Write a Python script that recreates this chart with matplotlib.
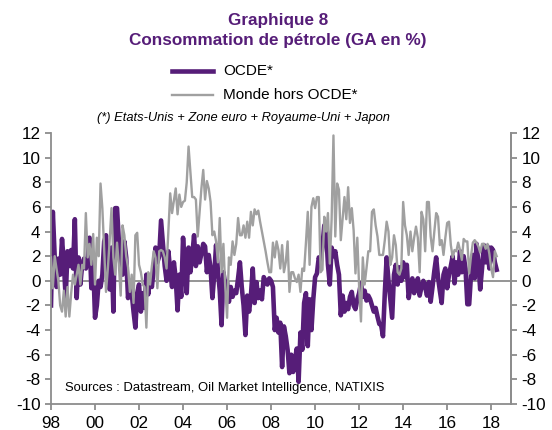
import numpy as np
import matplotlib
matplotlib.use("Agg")
import matplotlib.pyplot as plt

plt.rcParams['font.family'] = ['Liberation Sans', 'DejaVu Sans']

# Monthly year-on-year growth (%) starting Jan 1998
ocde = [
    -2.0, 5.6, 2.0, -0.5, 1.8, 0.5, 3.4, 1.5, -1.4, 2.4, 1.2, 2.5,      # 1998
    1.0, 5.0, -1.4, 1.9, -0.3, 1.3, 1.8, 1.0, 1.9, 3.5, -0.6, 1.5,      # 1999
    -3.0, -2.0, 0.0, -0.5, 0.5, 3.2, 3.7, 0.2, -0.7, 2.7, -2.5, 5.9,    # 2000
    5.9, 3.2, 1.0, 0.5, 3.2, 1.9, -1.4, 0.0, -1.0, -2.5, -3.8, -1.0,    # 2001
    -0.3, -2.5, -1.0, -2.2, 0.5, -1.1, 0.3, -0.5, 1.0, 2.7, 1.5, 2.0,   # 2002
    4.9, 3.0, 1.2, 0.0, 2.4, 0.8, -0.5, 1.5, 0.2, -2.4, 0.5, -1.3,      # 2003
    3.5, 1.0, -1.0, 2.7, 0.7, 2.0, 3.7, 1.2, 2.8, 1.5, 2.2, 3.0,        # 2004
    2.8, 0.7, 2.1, 1.0, -1.4, 0.5, 2.9, 0.8, -0.8, -3.6, 0.7, -0.3,     # 2005
    -0.1, -1.7, -0.5, -1.3, -0.8, -1.0, 0.2, 1.5, -0.5, -2.0, -4.4, -1.2,  # 2006
    -2.5, -1.2, 1.0, -1.8, -0.1, -1.4, -0.8, -1.5, 0.3, 0.0, -0.3, 0.2,    # 2007
    0.0, -0.5, -4.0, -3.0, -4.2, -3.4, -7.0, -3.7, -4.5, -5.6, -7.5, -6.0, # 2008
    -7.4, -6.4, -5.5, -8.2, -4.2, -5.6, -1.8, -1.0, -5.3, -1.5, -4.0, -1.5,  # 2009
    0.3, 0.6, 1.9, 1.5, 2.8, 4.5, 4.0, 1.3, -0.3, 2.7, 2.0, 2.4,        # 2010
    1.3, 0.5, -2.8, -1.2, -2.5, -1.8, -2.3, -1.3, -0.9, -2.0, -2.3, -1.5,  # 2011
    -1.0, -0.2, -1.3, -0.8, -1.6, -1.2, -1.5, -2.0, -2.5, -2.2, -2.9, -3.5,  # 2012
    -3.6, -4.5, -1.0, 1.9, 0.0, -1.5, -3.0, 0.5, 1.3, -0.3, 1.1, 0.0,   # 2013
    1.5, 0.3, 1.3, -1.4, -0.5, 0.2, -1.0, -0.3, 0.2, -1.2, -0.5, 0.0,   # 2014
    -0.5, -1.2, -0.1, -1.7, -0.5, 0.8, 1.9, 0.3, -0.8, -1.8, 0.5, 1.0,  # 2015
    -0.6, 0.5, 1.2, 2.0, -0.2, 1.5, 0.5, 2.4, 0.7, 2.0, 1.0, -1.9,      # 2016
    -1.9, 0.5, 2.1, 0.2, 3.0, 1.5, -0.7, 1.0, 2.9, 1.5, 2.8, 1.0,       # 2017
    2.7, 2.5, 1.5, 0.9,                                                 # 2018
]

hors_ocde = [
    1.9, -0.6, 2.0, 1.0, 0.0, -2.0, -2.5, -0.8, -2.9, -0.5, -2.9, -1.0,  # 1998
    0.5, -0.3, 0.5, 1.3, -0.3, 1.3, 1.0, 5.5, 1.9, 3.0, 1.3, 3.8,       # 1999
    -0.3, 3.5, 2.0, 7.9, 5.9, 2.5, -0.9, 1.0, 3.3, 5.9, 1.9, 0.5,       # 2000
    3.1, 1.3, -1.2, 4.5, 3.7, 2.0, 1.1, -0.9, 0.5, -1.8, 3.7, 3.9,      # 2001
    1.3, 0.7, -0.3, -0.5, -3.8, 0.7, -0.3, 1.2, 2.4, 1.9, -0.6, 2.4,    # 2002
    2.5, 2.4, 1.9, 1.0, 4.0, 7.1, 5.5, 6.5, 7.5, 5.4, 7.0, 6.0,         # 2003
    6.4, 6.5, 8.0, 10.9, 8.8, 6.8, 6.8, 6.6, 3.6, 5.5, 7.5, 9.0,        # 2004
    6.6, 8.1, 7.5, 6.4, 3.7, 4.0, 3.2, 1.5, 5.1, 0.7, 3.0, -0.5,        # 2005
    -3.0, 1.9, 1.3, 3.2, 2.1, 3.0, 5.1, 3.7, 3.7, 4.5, 3.5, 4.8,        # 2006
    3.5, 5.6, 4.5, 5.8, 5.4, 5.7, 4.8, 4.0, 3.2, 2.4, 1.5, 0.7,         # 2007
    0.7, 3.1, 1.9, 3.2, 2.5, 1.0, 2.9, 0.7, 1.5, 3.2, -0.9, 0.7,        # 2008
    0.7, 0.2, -0.1, 0.5, -0.9, 1.0, 0.8, 3.1, 5.6, 1.3, 6.0, 6.7,       # 2009
    5.9, 6.8, 6.8, 0.7, 0.9, 5.2, 4.0, 5.5, 1.4, 5.0, 11.8, 3.6,        # 2010
    7.9, 7.4, 3.3, 5.0, 6.8, 5.0, 7.6, 4.7, 5.9, 4.1, 0.6, 3.5,         # 2011
    -0.5, -3.3, 1.9, -0.3, 1.0, 2.4, 2.4, 5.6, 5.8, 4.5, 3.6, 2.1,      # 2012
    2.1, 2.1, 3.3, 4.8, 4.0, 1.3, 1.9, 3.7, 2.9, 0.7, 0.5, 1.0,         # 2013
    6.4, 4.5, 3.7, 2.1, 4.0, 2.4, 3.5, 4.4, 3.5, 0.7, 5.6, 5.0,         # 2014
    2.4, 6.4, 6.4, 3.6, 2.4, 4.0, 5.5, 5.2, 2.9, 3.3, 2.1, 3.5,         # 2015
    4.7, 4.8, 2.9, 1.9, 2.5, 2.4, 3.1, 2.5, 1.7, 3.4, 3.2, 3.2,         # 2016
    0.6, 2.0, 3.1, 3.3, 3.1, 2.8, 2.3, 3.0, 3.0, 2.6, 3.0, 2.2,         # 2017
    1.0, 0.3, 2.4, 2.0,                                                 # 2018
]

start_year = 1998
tick_years = list(range(1998, 2019, 2))
tick_labels = ['98', '00', '02', '04', '06', '08', '10', '12', '14', '16', '18']
y_ticks = list(range(-10, 13, 2))

purple = '#561D78'
grey = '#A0A0A0'
axis_grey = '#8C8C8C'

x_ocde = start_year + np.arange(len(ocde)) / 12.0
x_hors = start_year + np.arange(len(hors_ocde)) / 12.0

fig = plt.figure(figsize=(5.52, 4.30), dpi=100)
ax = fig.add_axes([51/552, 1 - 404/430, (511-51)/552, (404-133)/430])

ax.axhline(0, color=axis_grey, lw=1.3, zorder=1)
ax.plot(x_ocde, ocde, color=purple, lw=3.3, solid_joinstyle='round', zorder=2)
ax.plot(x_hors, hors_ocde, color=grey, lw=1.7, zorder=3)

ax.set_xlim(1998, 2018.9)
ax.set_ylim(-10, 12)
ax.set_xticks(tick_years)
ax.set_xticklabels(tick_labels)
ax.set_yticks(y_ticks)
ax.set_yticklabels([str(v) for v in y_ticks])

ax.spines['top'].set_visible(False)
for s in ['left', 'right', 'bottom']:
    ax.spines[s].set_color(axis_grey)
    ax.spines[s].set_linewidth(1.3)

ax.tick_params(axis='both', colors=axis_grey, labelcolor='black', labelsize=12.3,
               length=4, width=1.3, direction='out')
ax.tick_params(axis='x', pad=5)

ax2 = ax.twinx()
ax2.set_ylim(-10, 12)
ax2.set_yticks(y_ticks)
ax2.set_yticklabels([str(v) for v in y_ticks])
for s in ['top', 'left', 'bottom']:
    ax2.spines[s].set_visible(False)
ax2.spines['right'].set_color(axis_grey)
ax2.spines['right'].set_linewidth(1.3)
ax2.tick_params(axis='y', colors=axis_grey, labelcolor='black', labelsize=12.3,
                length=4, width=1.3, direction='out')

# Titles
fig.text(278/552, 1 - 21/430, 'Graphique 8', ha='center', va='center',
         fontsize=12.3, fontweight='bold', color=purple)
fig.text(278/552, 1 - 41/430, 'Consommation de pétrole (GA en %)', ha='center',
         va='center', fontsize=12.3, fontweight='bold', color=purple)

# Legend (manual)
fig.add_artist(plt.Line2D([172/552, 213/552], [1 - 71/430, 1 - 71/430],
                          color=purple, lw=3.3))
fig.text(223/552, 1 - 71/430, 'OCDE*', ha='left', va='center', fontsize=11)
fig.add_artist(plt.Line2D([172/552, 213/552], [1 - 95/430, 1 - 95/430],
                          color=grey, lw=1.7))
fig.text(223/552, 1 - 95/430, 'Monde hors OCDE*', ha='left', va='center', fontsize=11)

fig.text(97/552, 1 - 118/430, '(*) Etats-Unis + Zone euro + Royaume-Uni + Japon',
         ha='left', va='center', fontsize=9.3, style='italic')

ax.text(65/552, 1 - 388/430, 'Sources : Datastream, Oil Market Intelligence, NATIXIS',
        transform=fig.transFigure, ha='left', va='center', fontsize=9.4)

fig.savefig('out.png', dpi=100)
